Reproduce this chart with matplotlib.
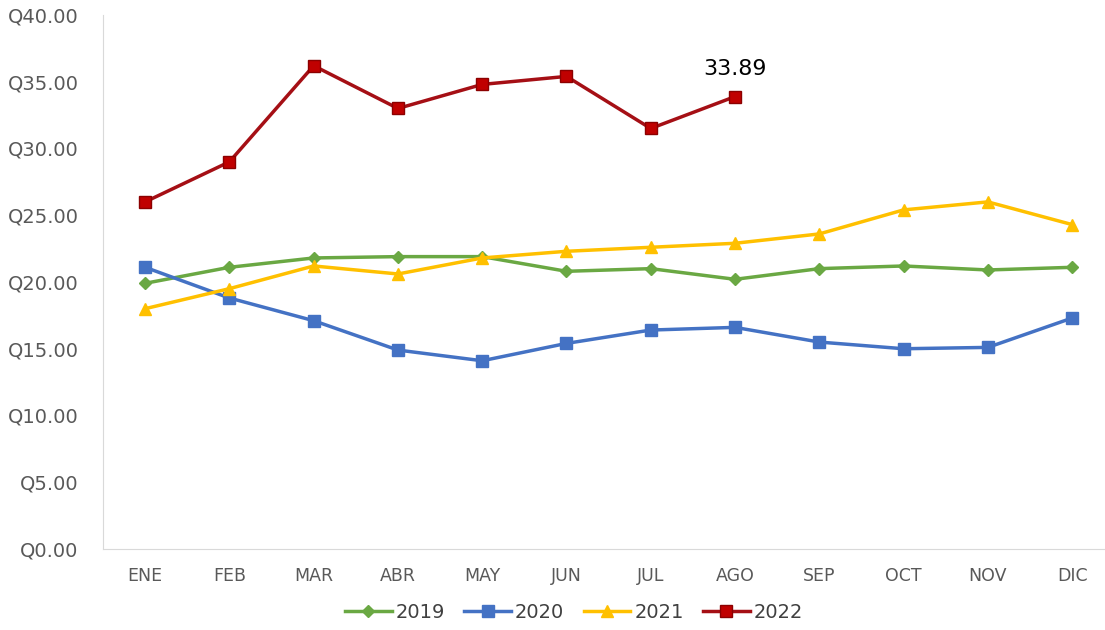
import numpy as np
import matplotlib.pyplot as plt

meses = ['ENE', 'FEB', 'MAR', 'ABR', 'MAY', 'JUN', 'JUL', 'AGO', 'SEP', 'OCT', 'NOV', 'DIC']
v2019 = [19.9, 21.1, 21.8, 21.9, 21.9, 20.8, 21.0, 20.2, 21.0, 21.2, 20.9, 21.1]
v2020 = [21.1, 18.8, 17.1, 14.9, 14.1, 15.4, 16.4, 16.6, 15.5, 15.0, 15.1, 17.3]
v2021 = [18.0, 19.5, 21.2, 20.6, 21.8, 22.3, 22.6, 22.9, 23.6, 25.4, 26.0, 24.3]
v2022 = [26.0, 29.0, 36.2, 33.0, 34.8, 35.4, 31.5, 33.89]
etiqueta = '33.89'
yticks = np.arange(0, 45, 5)

fig = plt.figure(figsize=(11.05, 6.3), dpi=100)
ax = fig.add_axes([0.0932, 0.1286, 0.9068, 0.8476])

x = np.arange(len(meses))
ax.plot(x, v2019, color='#6AA843', lw=2.5, marker='D', ms=6, label='2019')
ax.plot(x, v2020, color='#4472C4', lw=2.5, marker='s', ms=8, label='2020')
ax.plot(x, v2021, color='#FFC000', lw=2.5, marker='^', ms=8, label='2021')
ax.plot(x[:len(v2022)], v2022, color='#A50F15', lw=2.5, marker='s', ms=8,
        mfc='#C00000', mec='#8B0000', label='2022')
ax.annotate(etiqueta, (x[len(v2022) - 1], v2022[-1]), xytext=(0, 13),
            textcoords='offset points', ha='center', va='bottom', fontsize=16)

ax.set_xlim(-0.5, 11.39)
ax.set_ylim(0, 40)
ax.set_yticks(yticks)
ax.set_yticklabels(['Q%.2f' % v for v in yticks], color='#595959', fontsize=14)
ax.set_xticks(x)
ax.set_xticklabels(meses, color='#595959', fontsize=12.5)
ax.tick_params(length=0, pad=13)
ax.tick_params(axis='y', pad=17.5)
for s in ['top', 'right']:
    ax.spines[s].set_visible(False)
ax.spines['left'].set_color('#D9D9D9')
ax.spines['bottom'].set_color('#D9D9D9')

ax.legend(loc='upper center', bbox_to_anchor=(0.47, -0.068), ncol=4, frameon=False,
          fontsize=14, handlelength=2.4, columnspacing=1.0, handletextpad=0.2,
          labelcolor='#404040')

plt.savefig('out.png')
